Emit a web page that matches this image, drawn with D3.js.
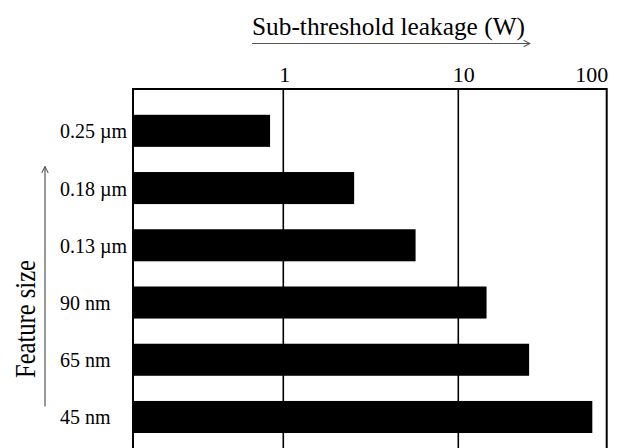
<!DOCTYPE html>
<html>
<head>
<meta charset="utf-8">
<script src="https://cdn.jsdelivr.net/npm/d3@7"></script>
<style>
  body { margin: 0; background: #fff; }
  svg { display: block; font-family: "Liberation Serif", "Times New Roman", serif; }
</style>
</head>
<body>
<svg width="620" height="448"></svg>
<script>
window.onload = function() {

// data
var categories = ["0.25 \u00b5m", "0.18 \u00b5m", "0.13 \u00b5m", "90 nm", "65 nm", "45 nm"];
var leakage = [0.84, 2.54, 5.7, 15.5, 30, 80];     // W
var tickValues = [1, 10, 100];
var tickLabels = ["1", "10", "100"];
var axisTitle = "Sub-threshold leakage (W)";
var sideTitle = "Feature size";

var svg = d3.select("svg");

var plotLeft = 133, plotTop = 89, plotRight = 606.7, plotBottom = 470;
var barColor = "#000";
var arrowColor = "#555";

// the axis in the picture is not evenly spaced per decade, so piecewise log
var x = d3.scaleLog()
    .domain([0.138, 1, 10, 100])
    .range([plotLeft, 283.3, 458.3, plotRight]);

var y = d3.scaleBand()
    .domain(categories)
    .range([102.2, 445.6])
    .paddingInner(0.44)
    .paddingOuter(0.22);

// arrow marker
svg.append("defs").append("marker")
    .attr("id", "arr")
    .attr("viewBox", "0 0 10 10")
    .attr("refX", 9).attr("refY", 5)
    .attr("markerWidth", 8).attr("markerHeight", 8)
    .attr("markerUnits", "userSpaceOnUse")
    .attr("orient", "auto")
  .append("path")
    .attr("d", "M1,1 L9,5 L1,9")
    .attr("fill", "none")
    .attr("stroke", arrowColor)
    .attr("stroke-width", 1.3);

// gridlines
svg.append("g").selectAll("line")
    .data(tickValues.slice(0, -1))
    .enter().append("line")
    .attr("x1", function(d) { return x(d); })
    .attr("x2", function(d) { return x(d); })
    .attr("y1", plotTop)
    .attr("y2", plotBottom)
    .attr("stroke", "#000")
    .attr("stroke-width", 1.6);

// bars
svg.append("g").selectAll("rect")
    .data(leakage)
    .enter().append("rect")
    .attr("x", plotLeft)
    .attr("y", function(d, i) { return y(categories[i]); })
    .attr("width", function(d) { return x(d) - plotLeft; })
    .attr("height", y.bandwidth())
    .attr("fill", barColor);

// plot frame
svg.append("rect")
    .attr("x", plotLeft)
    .attr("y", plotTop)
    .attr("width", plotRight - plotLeft)
    .attr("height", plotBottom - plotTop)
    .attr("fill", "none")
    .attr("stroke", "#000")
    .attr("stroke-width", 2);

// top axis labels
var xAxis = d3.axisTop(x)
    .tickValues(tickValues)
    .tickFormat(function(d, i) { return tickLabels[i]; })
    .tickSize(0)
    .tickPadding(0);

var gx = svg.append("g")
    .attr("transform", "translate(0," + (plotTop - 7) + ")")
    .call(xAxis);
gx.select(".domain").remove();
gx.selectAll("text")
    .attr("font-family", "Liberation Serif, serif")
    .attr("font-size", 22)
    .attr("fill", "#000")
    .attr("dy", 0)
    .attr("dx", function(d, i) { return i === 1 ? 5 : 1; })
    .attr("text-anchor", function(d, i) { return i === tickValues.length - 1 ? "end" : "middle"; });

// category labels
svg.append("g").selectAll("text")
    .data(categories)
    .enter().append("text")
    .attr("x", 60)
    .attr("y", function(d) { return y(d) + y.bandwidth() / 2 + 7.5; })
    .attr("font-size", 20)
    .attr("fill", "#000")
    .text(function(d) { return d; });

// title with arrow
svg.append("text")
    .attr("x", 252)
    .attr("y", 35)
    .attr("font-size", 26)
    .attr("textLength", 273)
    .attr("lengthAdjust", "spacingAndGlyphs")
    .attr("fill", "#000")
    .text(axisTitle);

svg.append("line")
    .attr("x1", 252).attr("y1", 43.5)
    .attr("x2", 530).attr("y2", 43.5)
    .attr("stroke", arrowColor)
    .attr("stroke-width", 1.2)
    .attr("marker-end", "url(#arr)");

// side label with arrow
svg.append("text")
    .attr("transform", "translate(35,319) rotate(-90)")
    .attr("text-anchor", "middle")
    .attr("font-size", 29)
    .attr("textLength", 118)
    .attr("lengthAdjust", "spacingAndGlyphs")
    .attr("fill", "#000")
    .text(sideTitle);

svg.append("line")
    .attr("x1", 45).attr("y1", 406.5)
    .attr("x2", 45).attr("y2", 166.5)
    .attr("stroke", arrowColor)
    .attr("stroke-width", 1.2)
    .attr("marker-end", "url(#arr)");

}
</script>
</body>
</html>
